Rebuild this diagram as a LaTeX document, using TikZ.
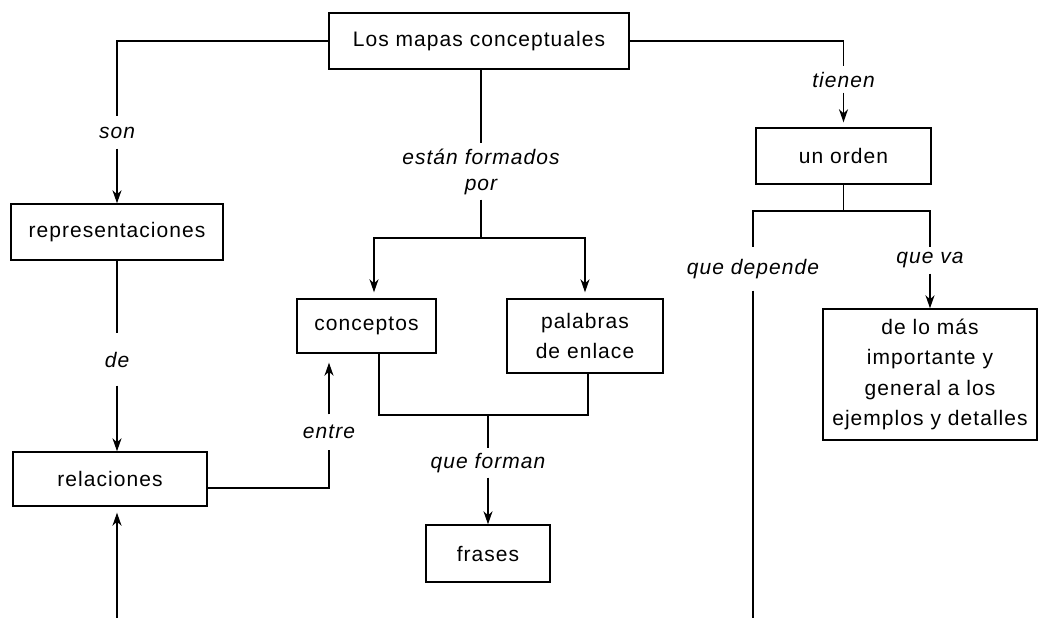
\documentclass[tikz,border=0pt]{standalone}
\usepackage{fontspec}
\setmainfont{Liberation Sans}[LetterSpace=5]
\usetikzlibrary{arrows.meta}

\tikzset{
  concepto/.style={draw, line width=1.4pt, inner sep=0pt, align=center,
    font=\fontsize{21}{30.5}\selectfont},
  enlace/.style={inner sep=0pt, align=center,
    font=\fontsize{21}{26}\selectfont\itshape},
  flecha/.style={-{Stealth[length=13pt,width=9pt,inset=4pt]}},
}

\begin{document}
\begin{tikzpicture}[x=1pt, y=-1pt, line width=1.4pt]
        \useasboundingbox (0,0) rectangle (1039,618);

        % Concept boxes
        \foreach \n/\x/\y/\w/\h/\t in {top/479/41/300/56/{Los mapas conceptuales},
            repr/117/232/212/56/{representaciones}, rel/110/479/194/54/{relaciones},
            conc/366.5/326/139/54/{conceptos}, pal/585/336/156/74/{palabras\\de enlace},
            fra/488/553.5/124/57/{frases}, ord/843.5/156/175/56/{un orden},
            det/930/374.5/214/131/{de lo más\\importante y\\general a los\\ejemplos y detalles}} {
            \node[concepto, minimum width=\w, minimum height=\h] (\n) at (\x,\y) {\t};
        }

        % Linking words
        \foreach \n/\x/\y/\h/\t in {son/117/132.5/31/{son}, de/117/359.5/51/{de},
            est/481/171.5/55/{están formados\\por}, tie/843.5/79.5/25/{tienen},
            ent/329/432/34/{entre}, qf/488/463/28/{que forman},
            qd/753/269/42/{que depende}, qv/930/260.5/25/{que va}} {
            \node[enlace, minimum height=\h] (\n) at (\x,\y) {\t};
        }
        \coordinate (f1) at (481,238);
        \coordinate (f2) at (488,415);
        \coordinate (f3) at (843.5,211);
        \coordinate (abajo1) at (117,618);
        \coordinate (abajo2) at (753,618);

        % Left branch
        \draw (top.west) -| (son);
        \draw[flecha] (son) -- (repr);
        \draw (repr) -- (de);
        \draw[flecha] (de) -- (de |- rel.north);
        \draw[flecha, shorten >=6pt] (abajo1) -- (abajo1 |- rel.south);
        \draw ([yshift=-9pt]rel.east) -| (ent);
        \draw[flecha, shorten >=9pt] (ent) -- (ent |- conc.south);

        % Middle branch
        \draw (top.south -| est) -- (est);
        \draw (est) -- (f1);
        \draw[flecha, shorten >=6pt] (f1) -| ([xshift=7.5pt]conc.north);
        \draw[flecha, shorten >=6pt] (f1) -| (pal.north);
        \draw ([xshift=12.5pt]conc.south) |- (f2) -| ([xshift=3pt]pal.south);
        \draw (f2) -- (qf);
        \draw[flecha] (qf) -- (fra);

        % Right branch
        \draw (top.east) -| (tie);
        \draw[flecha, shorten >=5pt] (tie) -- (ord);
        \draw (ord) -- (f3);
        \draw (f3) -| (qd);
        \draw (f3) -| (qv);
        \draw (qd) -- (abajo2);
        \draw[flecha] (qv) -- (det);
    \end{tikzpicture}
\end{document}
